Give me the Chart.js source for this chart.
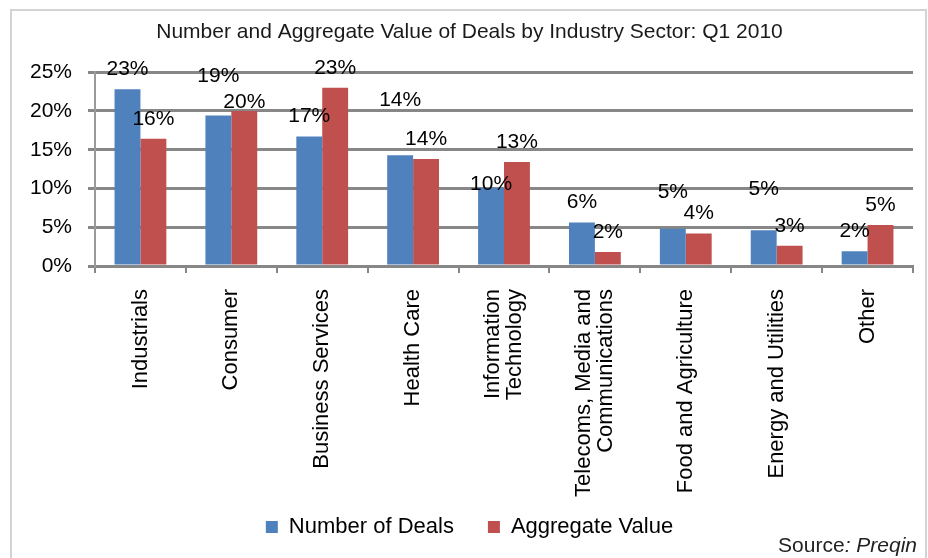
<!DOCTYPE html>
<html>
<head>
<meta charset="utf-8">
<script src="https://cdn.jsdelivr.net/npm/chart.js@4.4.1/dist/chart.umd.min.js"></script>
<style>
  html, body { margin: 0; padding: 0; background: #fff; }
  #wrap { width: 928px; height: 558px; position: relative; }
</style>
</head>
<body>
<div id="wrap"><canvas id="chart"></canvas></div>
<script>
// sectors (two long names are split over two lines like the original)
const sectors = [
  'Industrials', 'Consumer', 'Business Services', 'Health Care',
  ['Information', 'Technology'], ['Telecoms, Media and', 'Communications'],
  'Food and Agriculture', 'Energy and Utilities', 'Other'
];
// share of deals, %
const numberOfDeals = [22.8, 19.4, 16.7, 14.3, 10.1, 5.6, 4.8, 4.6, 1.9];
const aggregateValue = [16.4, 20.0, 23.0, 13.8, 13.4, 1.8, 4.2, 2.6, 5.3];
const yTickValues = [0, 5, 10, 15, 20, 25];

const FONT = '"Liberation Sans", Arial, sans-serif';
Chart.defaults.font.family = FONT;
Chart.defaults.color = '#000';

const gridGrey = '#878787';

// light grey frame round the whole chart
const framePlugin = {
  id: 'frame',
  beforeDraw(chart) {
    const ctx = chart.ctx;
    ctx.save();
    ctx.strokeStyle = '#d3d3d3';
    ctx.lineWidth = 2;
    ctx.strokeRect(11, 10, 915, 600);
    ctx.restore();
  }
};

// x labels: centre two-line labels on their tick, and let long ones run
// past the axis box (they hang into the legend gap like in the original)
const xLabelFix = {
  id: 'xLabelFix',
  beforeDraw(chart) {
    const scale = chart.scales.x;
    scale._computeLabelArea = () => undefined;
    const items = scale.getLabelItems();
    if (items._centered) return;
    items.forEach(item => {
      const n = Array.isArray(item.label) ? item.label.length : 1;
      if (n > 1) {
        item.options.translation[0] -= (n - 1) * item.font.lineHeight / 2;
      }
    });
    items._centered = true;
  }
};

// value labels above the bars (Excel had some of them nudged by hand)
const valueLabels = {
  id: 'valueLabels',
  afterDatasetsDraw(chart, args, opts) {
    const ctx = chart.ctx;
    ctx.save();
    ctx.font = '21px ' + FONT;
    ctx.fillStyle = '#000';
    ctx.textAlign = 'center';
    ctx.textBaseline = 'middle';
    chart.data.datasets.forEach((ds, i) => {
      const meta = chart.getDatasetMeta(i);
      meta.data.forEach((bar, j) => {
        const lift = opts.offset + (opts.lift[i][j] || 0);
        ctx.fillText(Math.round(ds.data[j]) + '%', bar.x, bar.y - lift);
      });
    });
    ctx.restore();
  }
};

// "Source: Preqin" in the bottom right corner
const sourceNote = {
  id: 'sourceNote',
  afterDraw(chart) {
    const ctx = chart.ctx;
    ctx.save();
    ctx.fillStyle = '#222';
    ctx.textBaseline = 'middle';
    ctx.textAlign = 'right';
    ctx.font = 'italic 21px ' + FONT;
    const tail = ': Preqin';
    const right = 917, y = 546;
    ctx.fillText(tail, right, y);
    const w = ctx.measureText(tail).width;
    ctx.font = '21px ' + FONT;
    ctx.fillText('Source', right - w, y);
    ctx.restore();
  }
};

new Chart(document.getElementById('chart'), {
  type: 'bar',
  data: {
    labels: sectors,
    datasets: [
      {
        label: 'Number of Deals',
        data: numberOfDeals,
        backgroundColor: '#4F81BD',
        borderWidth: 0,
        barPercentage: 1,
        categoryPercentage: 0.57
      },
      {
        label: 'Aggregate Value',
        data: aggregateValue,
        backgroundColor: '#C0504D',
        borderWidth: 0,
        barPercentage: 1,
        categoryPercentage: 0.57
      }
    ]
  },
  options: {
    responsive: true,
    maintainAspectRatio: false,
    animation: false,
    layout: { padding: { left: 26, right: 15, top: 0, bottom: 10 } },
    plugins: {
      title: {
        display: true,
        text: 'Number and Aggregate Value of Deals by Industry Sector: Q1 2010',
        color: '#1a1a1a',
        font: { size: 21, weight: 'normal' },
        padding: { top: 20, bottom: 27 }
      },
      legend: {
        position: 'bottom',
        labels: {
          boxWidth: 12,
          boxHeight: 12,
          padding: 34,
          font: { size: 22 }
        }
      },
      tooltip: { enabled: false },
      valueLabels: {
        offset: 20,
        lift: [
          [0, 19, 0, 35, -16, 0, 17, 21, 0],
          [0, -11, 0, 0, 0, 0, 0, 0, 0]
        ]
      }
    },
    scales: {
      x: {
        grid: {
          drawOnChartArea: false,
          drawTicks: true,
          tickLength: 7,
          color: gridGrey,
          lineWidth: 2,
          offset: true
        },
        border: { display: true, color: gridGrey, width: 3 },
        ticks: {
          autoSkip: false,
          minRotation: 90,
          maxRotation: 90,
          padding: 16,
          font: { size: 22, lineHeight: 1.0 }
        },
        afterFit(scale) { scale.height = 216; }
      },
      y: {
        min: 0,
        max: 25,
        afterBuildTicks(scale) {
          scale.ticks = yTickValues.map(v => ({ value: v }));
        },
        grid: {
          color: gridGrey,
          lineWidth: 3,
          tickLength: 7,
          drawTicks: true
        },
        border: { display: true, color: '#9a9a9a', width: 2 },
        ticks: {
          padding: 16,
          font: { size: 21 },
          callback: v => v + '%'
        },
        afterFit(scale) { scale.width = 69; }
      }
    }
  },
  plugins: [framePlugin, xLabelFix, valueLabels, sourceNote]
});
</script>
</body>
</html>
